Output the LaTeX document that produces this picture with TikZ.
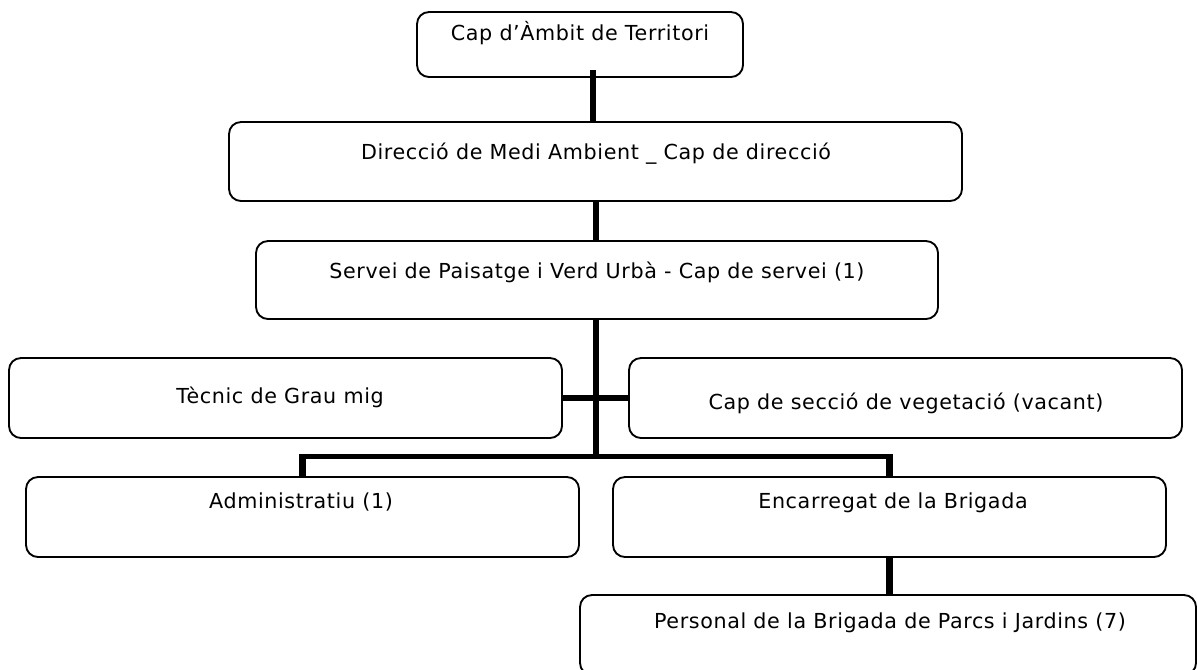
\documentclass[tikz,border=0pt]{standalone}
\usepackage{fontspec}
\newfontfamily\orgfont[LetterSpace=3]{DejaVu Sans}
\begin{document}
\begin{tikzpicture}[x=0.75pt,y=-0.75pt,
  boxst/.style={draw=black, line width=1.4pt, rounded corners=9pt, fill=white, inner sep=0pt},
  lab/.style={font=\orgfont\fontsize{15.5pt}{18pt}\selectfont, anchor=base, inner sep=0pt},
  conn/.style={draw=black, line width=5pt, line join=miter},
  hconn/.style={draw=black, line width=4.2pt}]
\useasboundingbox (0,0) rectangle (1197,669);
% boxes
\node[boxst, minimum width=244.5pt, minimum height=48.75pt] (b1) at (580,44.5) {};
\node[boxst, minimum width=549.75pt, minimum height=59.25pt] (b2) at (595.5,161.5) {};
\node[boxst, minimum width=511.5pt, minimum height=58.5pt] (b3) at (597,280) {};
\node[boxst, minimum width=414.75pt, minimum height=60pt] (b4) at (285.5,398) {};
\node[boxst, minimum width=414.75pt, minimum height=60pt] (b5) at (905.5,398) {};
\node[boxst, minimum width=414.75pt, minimum height=60pt] (b6) at (302.5,517) {};
\node[boxst, minimum width=414.75pt, minimum height=60pt] (b7) at (889.5,517) {};
\node[boxst, minimum width=462pt, minimum height=60pt] (b8) at (888,635) {};
% texts
\node[lab] (t1) at (580,40) {Cap d’Àmbit de Territori};
\node[lab] (t2) at (596,159) {Direcció de Medi Ambient \_ Cap de direcció};
\node[lab] (t3) at (597,278) {Servei de Paisatge i Verd Urbà - Cap de servei (1)};
\node[lab] (t4) at (280,403) {Tècnic de Grau mig};
\node[lab] (t5) at (906,409) {Cap de secció de vegetació (vacant)};
\node[lab] (t6) at (301,508) {Administratiu (1)};
\node[lab] (t7) at (893,508) {Encarregat de la Brigada};
\node[lab] (t8) at (890,628) {Personal de la Brigada de Parcs i Jardins (7)};
% connectors
\coordinate (s1) at (593,0);
\coordinate (s2) at (596,0);
\coordinate (j) at (596,456.5);
\draw[conn] ([yshift=6pt]b1.south -| s1) -- (b2.north -| s1);
\draw[conn] (b2.south -| s2) -- (b3.north -| s2);
\draw[conn] (b3.south -| s2) -- ([yshift=-1.5pt]j);
\draw[hconn] (b4.east) -- (b5.west);
\draw[hconn] ([xshift=-2.5pt]b6.north |- j) -- ([xshift=2.5pt]b7.north |- j);
\draw[conn] ([yshift=2pt]b6.north |- j) -- (b6.north);
\draw[conn] ([yshift=2pt]b7.north |- j) -- (b7.north);
\draw[conn] (b7.south) -- (b7.south |- b8.north);
\end{tikzpicture}
\end{document}
